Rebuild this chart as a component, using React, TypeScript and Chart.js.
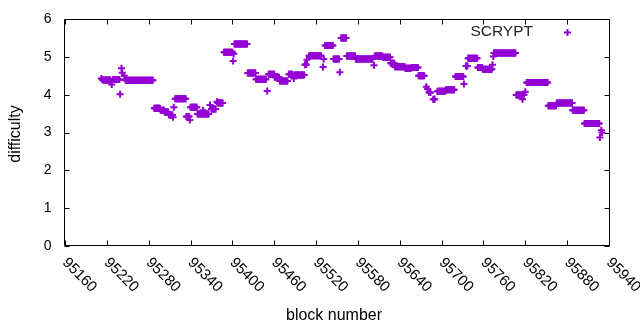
import React, { useEffect, useRef } from "react";
import { Chart, registerables } from "chart.js";

Chart.register(...registerables);

// Runs of blocks sharing the same difficulty (start block, end block, value)
const runStart = [
  95212, 95214, 95227, 95229, 95239, 95241, 95242, 95245, 95247, 95288,
  95297, 95303, 95309, 95315, 95316, 95318, 95334, 95339, 95340, 95350,
  95358, 95359, 95368, 95370, 95378, 95379, 95388, 95401, 95402, 95403,
  95422, 95434, 95450, 95452, 95461, 95468, 95481, 95488, 95489, 95504,
  95505, 95507, 95510, 95530, 95531, 95533, 95545, 95554, 95556, 95564,
  95577, 95603, 95604, 95616, 95627, 95633, 95648, 95657, 95667, 95678,
  95680, 95682, 95688, 95694, 95706, 95720, 95732, 95735, 95738, 95752,
  95759, 95773, 95774, 95775, 95807, 95816, 95817, 95820, 95822, 95853,
  95865, 95888, 95905, 95927, 95929, 95930,
];
const runEnd = [
  95212, 95225, 95227, 95238, 95239, 95241, 95242, 95245, 95286, 95296,
  95302, 95308, 95314, 95315, 95316, 95333, 95338, 95339, 95349, 95357,
  95358, 95366, 95368, 95376, 95378, 95386, 95400, 95401, 95402, 95421,
  95433, 95448, 95450, 95460, 95467, 95479, 95486, 95488, 95503, 95504,
  95506, 95507, 95527, 95530, 95531, 95544, 95553, 95554, 95563, 95576,
  95601, 95603, 95615, 95626, 95632, 95647, 95656, 95666, 95675, 95678,
  95680, 95684, 95690, 95705, 95718, 95731, 95732, 95737, 95751, 95758,
  95772, 95773, 95774, 95806, 95815, 95816, 95818, 95820, 95852, 95864,
  95887, 95904, 95926, 95927, 95929, 95930,
];
const runValue = [
  4.43, 4.39, 4.27, 4.40, 4.01, 4.70, 4.58, 4.50, 4.38, 3.64,
  3.59, 3.54, 3.46, 3.40, 3.67, 3.89, 3.42, 3.33, 3.67, 3.49,
  3.59, 3.49, 3.73, 3.62, 3.81, 3.78, 5.12, 4.89, 5.08, 5.34,
  4.57, 4.41, 4.10, 4.54, 4.46, 4.36, 4.54, 4.43, 4.52, 4.79,
  4.80, 4.92, 5.03, 4.73, 4.94, 5.30, 4.94, 4.59, 5.50, 5.02,
  4.94, 4.78, 5.02, 4.99, 4.83, 4.74, 4.70, 4.72, 4.50, 4.21,
  4.15, 4.06, 3.88, 4.09, 4.13, 4.48, 4.28, 4.76, 4.96, 4.72,
  4.67, 4.79, 5.01, 5.10, 3.99, 3.88, 3.99, 4.08, 4.32, 3.71,
  3.78, 3.59, 3.24, 2.87, 3.06, 3.00,
];

const xTicks = [
  95160, 95220, 95280, 95340, 95400, 95460, 95520, 95580, 95640, 95700,
  95760, 95820, 95880, 95940,
];
const yTicks = [0, 1, 2, 3, 4, 5, 6];
const seriesName = "SCRYPT";
const xTitle = "block number";
const yTitle = "difficulty";

const COLOR = "#9400d3";
const FONT = '"Liberation Sans", Arial, sans-serif';

function buildPoints() {
  const pts: { x: number; y: number }[] = [];
  for (let i = 0; i < runStart.length; i++) {
    for (let b = runStart[i]; b <= runEnd[i]; b++) {
      pts.push({ x: b, y: runValue[i] });
    }
  }
  return pts;
}

const decorPlugin = {
  id: "decor",
  afterDraw(chart: any) {
    const { ctx, chartArea: a, scales } = chart;
    const xs = scales.x;
    const ys = scales.y;
    const L = Math.round(a.left) - 0.5;
    const R = Math.round(a.right) + 0.5;
    const T = Math.round(a.top) + 0.5;
    const B = Math.round(a.bottom) - 0.5;
    const tl = 5;
    ctx.save();
    ctx.strokeStyle = "#000";
    ctx.lineWidth = 1;
    ctx.beginPath();
    ctx.rect(L, T, R - L, B - T);
    for (const v of xTicks) {
      const px = Math.round(xs.getPixelForValue(v)) + 0.5;
      ctx.moveTo(px, B);
      ctx.lineTo(px, B - tl);
      ctx.moveTo(px, T);
      ctx.lineTo(px, T + tl);
    }
    for (const v of yTicks) {
      const py = Math.round(ys.getPixelForValue(v)) + 0.5;
      ctx.moveTo(L, py);
      ctx.lineTo(L + tl, py);
      ctx.moveTo(R, py);
      ctx.lineTo(R - tl, py);
    }
    ctx.stroke();

    ctx.fillStyle = "#000";
    // y tick labels
    ctx.font = "14px " + FONT;
    ctx.textAlign = "right";
    ctx.textBaseline = "middle";
    for (const v of yTicks) {
      ctx.fillText(String(v), L - 13, ys.getPixelForValue(v));
    }
    // x tick labels rotated
    ctx.font = "15px " + FONT;
    for (const v of xTicks) {
      const px = xs.getPixelForValue(v);
      ctx.save();
      ctx.translate(px + 5, 255);
      ctx.rotate(Math.PI / 4);
      ctx.textAlign = "left";
      ctx.textBaseline = "top";
      ctx.fillText(String(v), 0, 0);
      ctx.restore();
    }
    // axis titles
    ctx.font = "16px " + FONT;
    ctx.textAlign = "center";
    ctx.textBaseline = "middle";
    ctx.fillText(xTitle, 334, 316);
    ctx.save();
    ctx.translate(16, 134);
    ctx.rotate(-Math.PI / 2);
    ctx.fillText(yTitle, 0, 0);
    ctx.restore();

    // legend
    ctx.font = "15.5px " + FONT;
    ctx.textAlign = "right";
    ctx.textBaseline = "middle";
    ctx.fillStyle = "#222";
    ctx.fillText(seriesName, 533, 32);
    ctx.strokeStyle = COLOR;
    ctx.lineWidth = 2;
    ctx.beginPath();
    ctx.moveTo(567.5 - 3.5, 32.5);
    ctx.lineTo(567.5 + 3.5, 32.5);
    ctx.moveTo(567.5, 32.5 - 3.5);
    ctx.lineTo(567.5, 32.5 + 3.5);
    ctx.stroke();
    ctx.restore();
  },
};

export default function App() {
  const ref = useRef<HTMLCanvasElement | null>(null);
  useEffect(() => {
    document.body.style.margin = "0";
    const canvas = ref.current;
    if (!canvas) return;
    const chart = new Chart(canvas, {
      type: "scatter",
      data: {
        datasets: [
          {
            label: seriesName,
            data: buildPoints(),
            pointStyle: "cross",
            pointRadius: 3.5,
            pointBorderWidth: 2,
            borderWidth: 2,
            borderColor: COLOR,
            backgroundColor: COLOR,
            showLine: false,
          } as any,
        ],
      },
      options: {
        responsive: false,
        animation: false,
        events: [],
        layout: { padding: { left: 65, right: 31, top: 19, bottom: 84 } },
        plugins: {
          legend: { display: false },
          tooltip: { enabled: false },
        },
        scales: {
          x: { type: "linear", min: 95160, max: 95940, display: false },
          y: { type: "linear", min: 0, max: 6, display: false },
        },
      },
      plugins: [decorPlugin],
    });
    return () => chart.destroy();
  }, []);
  return (
    <canvas
      ref={ref}
      width={640}
      height={330}
      style={{ display: "block", width: 640, height: 330 }}
    />
  );
}
